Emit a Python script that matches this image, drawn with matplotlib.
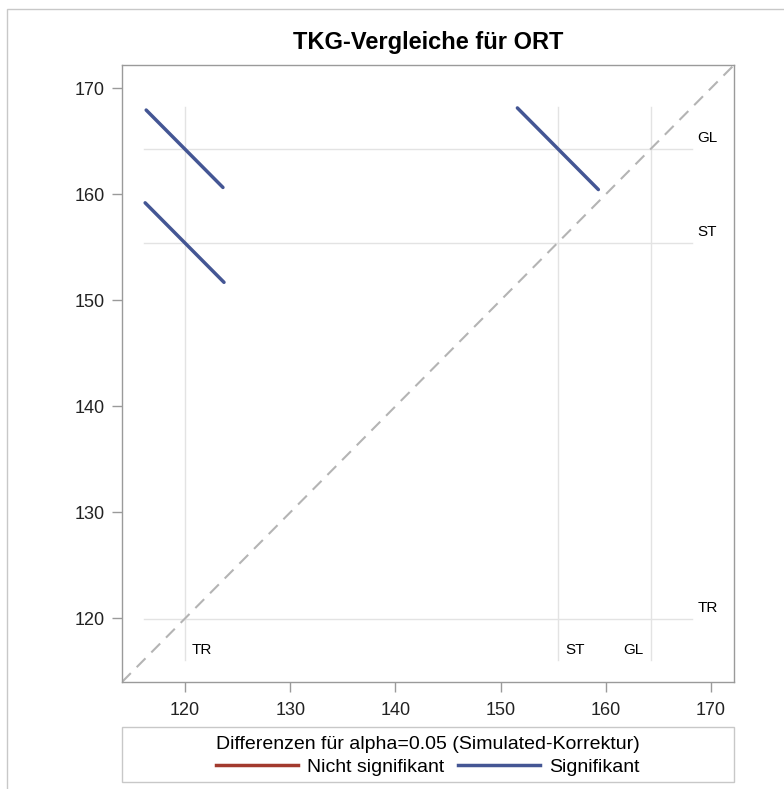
import numpy as np
import matplotlib
matplotlib.use('Agg')
from matplotlib import pyplot as plt
from matplotlib.lines import Line2D
from matplotlib.patches import Rectangle

plt.rcParams['font.family'] = ['Liberation Sans', 'DejaVu Sans']

# group means (LS-means) for ORT
groups = ['TR', 'ST', 'GL']
means = [119.95, 155.45, 164.3]

# pairwise comparisons: (i, j), half length of segment along x, significance
pair_i = [0, 0, 1]
pair_j = [2, 1, 2]
half_len = [3.65, 3.75, 3.85]
signif = [True, True, True]

lo, hi = 114.0, 172.2
ref_lo, ref_hi = 116.1, 168.2

blue = '#445694'
red = '#A23A2E'
gray_ref = '#e3e3e3'
frame_col = '#9a9a9a'

fig = plt.figure(figsize=(7.84, 7.89), dpi=100)
W, H = 784, 789

# outer border
fig.patches.append(Rectangle((7 / W, -0.1), 1.2, (H - 9) / H + 0.1,
                             transform=fig.transFigure, fill=False,
                             edgecolor='#c8c8c8', lw=1.0))

ax = fig.add_axes([122 / W, 107 / H, 612 / W, 617 / H])
ax.set_xlim(lo, hi)
ax.set_ylim(lo, hi)

# reference lines
for g, m in zip(groups, means):
    ax.plot([ref_lo, ref_hi], [m, m], color=gray_ref, lw=1, zorder=1)
    ax.plot([m, m], [ref_lo, ref_hi], color=gray_ref, lw=1, zorder=1)
    ax.text(ref_hi + 0.55, m + 0.35, g, fontsize=11, color='black',
            ha='left', va='bottom')

# labels at bottom of vertical lines
ax.text(means[0] + 0.7, 117.0, groups[0], fontsize=11, ha='left', va='center')
ax.text(means[1] + 0.7, 117.0, groups[1], fontsize=11, ha='left', va='center')
ax.text(means[2] - 0.7, 117.0, groups[2], fontsize=11, ha='right', va='center')

# diagonal
ax.plot([lo, hi], [lo, hi], color='#b4b4b4', lw=1.5, ls=(0, (6, 4)), zorder=2)

# diffogram segments
for i, j, h, s in zip(pair_i, pair_j, half_len, signif):
    cx, cy = means[i], means[j]
    ax.plot([cx - h, cx + h], [cy + h, cy - h], color=blue if s else red,
            lw=2.5, solid_capstyle='round', zorder=3)

ax.set_xticks([120, 130, 140, 150, 160, 170])
ax.set_yticks([120, 130, 140, 150, 160, 170])
ax.tick_params(direction='out', length=7.2, width=1, color=frame_col,
               labelsize=13, labelcolor='#222222')
ax.tick_params(axis='y', pad=5)
ax.tick_params(axis='x', pad=7)
for sp in ax.spines.values():
    sp.set_color(frame_col)
    sp.set_linewidth(1)

fig.text(428 / W, 1 - 48.5 / H, 'TKG-Vergleiche f\u00fcr ORT', fontsize=17,
         fontweight='bold', ha='center', va='baseline')

# legend box
fig.patches.append(Rectangle((122 / W, 7 / H), 612 / W, 55 / H,
                             transform=fig.transFigure, fill=False,
                             edgecolor='#c8c8c8', lw=1.0))
handles = [Line2D([], [], color=red, lw=2.5),
           Line2D([], [], color=blue, lw=2.5)]
leg = fig.legend(handles, ['Nicht signifikant', 'Signifikant'],
                 title='Differenzen f\u00fcr alpha=0.05 (Simulated-Korrektur)',
                 loc='center', bbox_to_anchor=(428 / W, 33 / H), ncol=2,
                 frameon=False, fontsize=14, title_fontsize=14,
                 handlelength=4.2, columnspacing=0.7, handletextpad=0.5,
                 borderpad=0.2, labelspacing=0.2)
leg._legend_box.sep = 4

fig.savefig('out.png', dpi=100)
